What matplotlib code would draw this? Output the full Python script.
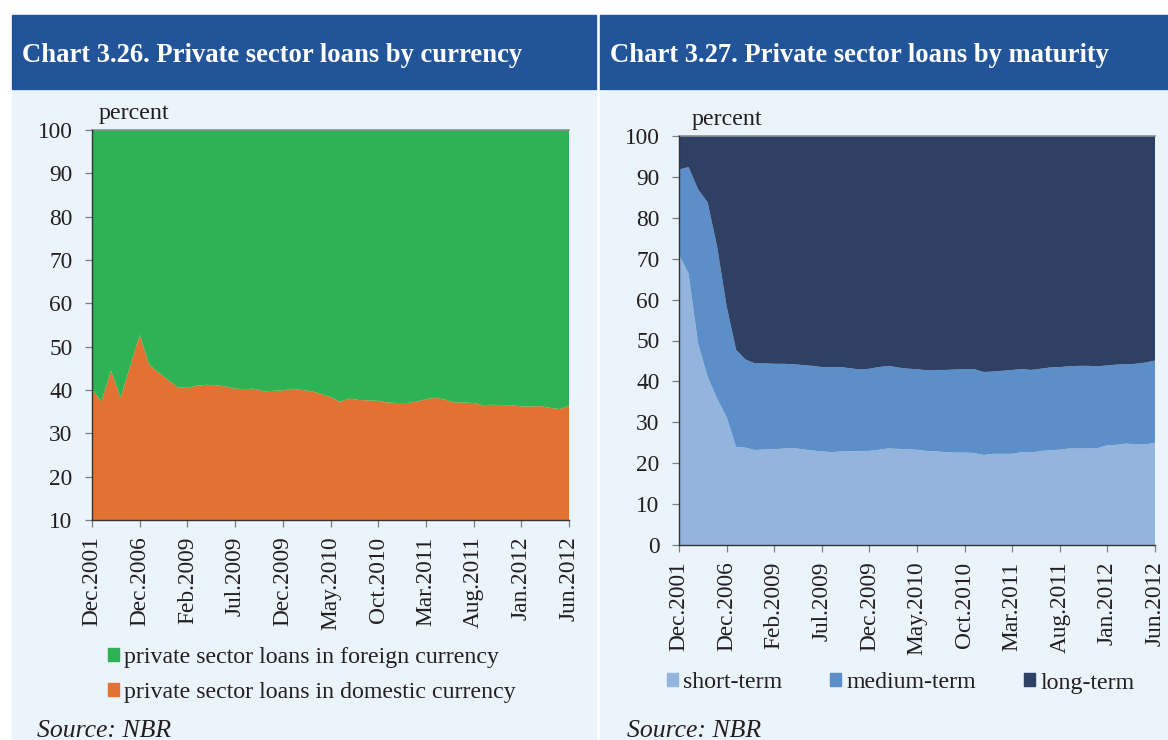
import matplotlib
matplotlib.use("Agg")
import matplotlib.pyplot as plt
from matplotlib.patches import Rectangle, Patch
import numpy as np

# ── Palette ────────────────────────────────────────────────────────────────────
HEADER_BLUE = "#22549a"
PANEL_BG    = "#ebf3fb"
GREEN       = "#2db254"
ORANGE      = "#e37131"
SHORT_C     = "#93b5dd"
MEDIUM_C    = "#5c8ec9"
LONG_C      = "#2e4164"
TEXT_C      = "#231f20"

SERIF = ["Liberation Serif", "DejaVu Serif"]

# ── Data ───────────────────────────────────────────────────────────────────────
TICK_LABELS = ["Dec.2001", "Dec.2006", "Feb.2009", "Jul.2009", "Dec.2009",
               "May.2010", "Oct.2010", "Mar.2011", "Aug.2011", "Jan.2012",
               "Jun.2012"]
TICK_STEP = 5

# Chart 3.26 - shares by currency (percent)
domestic = [40.0, 37.4, 44.5, 38.2, 45.5, 52.7, 45.8, 44.0, 42.3, 40.6,
            40.5, 41.0, 41.2, 41.1, 40.8, 40.3, 40.2, 40.3, 39.7, 39.8,
            39.9, 40.3, 40.0, 39.7, 39.1, 38.4, 37.3, 38.0, 37.7, 37.6,
            37.5, 37.1, 37.0, 37.0, 37.3, 37.9, 38.2, 37.8, 37.1, 37.1,
            37.0, 36.5, 36.6, 36.5, 36.5, 36.2, 36.2, 36.3, 35.9, 35.6,
            36.3]
foreign = [60.0, 62.6, 55.5, 61.8, 54.5, 47.3, 54.2, 56.0, 57.7, 59.4,
           59.5, 59.0, 58.8, 58.9, 59.2, 59.7, 59.8, 59.7, 60.3, 60.2,
           60.1, 59.7, 60.0, 60.3, 60.9, 61.6, 62.7, 62.0, 62.3, 62.4,
           62.5, 62.9, 63.0, 63.0, 62.7, 62.1, 61.8, 62.2, 62.9, 62.9,
           63.0, 63.5, 63.4, 63.5, 63.5, 63.8, 63.8, 63.7, 64.1, 64.4,
           63.7]

# Chart 3.27 - shares by maturity (percent)
short_term = [71.0, 66.4, 49.3, 41.2, 35.8, 31.3, 24.0, 23.8, 23.2, 23.4,
              23.4, 23.6, 23.7, 23.4, 23.1, 22.9, 22.7, 22.9, 22.9, 23.0,
              23.0, 23.3, 23.6, 23.5, 23.4, 23.3, 23.0, 22.9, 22.7, 22.6,
              22.6, 22.5, 22.0, 22.3, 22.3, 22.3, 22.7, 22.6, 23.0, 23.2,
              23.3, 23.6, 23.6, 23.6, 23.7, 24.4, 24.5, 24.8, 24.6, 24.6,
              25.0]
medium_term = [20.8, 26.0, 37.7, 42.6, 37.2, 27.1, 23.7, 21.5, 21.2, 21.0,
               20.9, 20.7, 20.5, 20.6, 20.7, 20.6, 20.8, 20.6, 20.3, 19.9,
               20.1, 20.2, 20.2, 19.9, 19.7, 19.7, 19.7, 19.9, 20.1, 20.3,
               20.4, 20.5, 20.3, 20.1, 20.3, 20.5, 20.3, 20.2, 20.1, 20.2,
               20.2, 20.1, 20.2, 20.2, 20.0, 19.5, 19.6, 19.4, 19.7, 20.0,
               20.1]
long_term = [8.2, 7.6, 13.0, 16.2, 27.0, 41.6, 52.3, 54.7, 55.6, 55.6,
             55.7, 55.7, 55.8, 56.0, 56.2, 56.5, 56.5, 56.5, 56.8, 57.1,
             56.9, 56.5, 56.2, 56.6, 56.9, 57.0, 57.3, 57.2, 57.2, 57.1,
             57.0, 57.0, 57.7, 57.6, 57.4, 57.2, 57.0, 57.2, 56.9, 56.6,
             56.5, 56.3, 56.2, 56.2, 56.3, 56.1, 55.9, 55.8, 55.7, 55.4,
             54.9]

W, H = 1168, 740
fig = plt.figure(figsize=(W / 100, H / 100), dpi=100)
fig.patch.set_facecolor("white")

TICK_FS = 16.8
TEXT_FS = 17.3
LEGEND_FS = 17.2
SOURCE_FS = 18.5


def px(x0, y0, w, h):
    """Pixel box (top-left origin) -> figure fraction rect."""
    return [x0 / W, 1 - (y0 + h) / H, w / W, h / H]


def panel(x0, x1, title):
    # light body and blue header band, kept behind the axes
    fig.patches.append(Rectangle((x0 / W, 0), (x1 - x0) / W, 1 - 91 / H,
                                 transform=fig.transFigure,
                                 color=PANEL_BG, zorder=-2))
    fig.patches.append(Rectangle((x0 / W, 1 - 89 / H), (x1 - x0) / W, 74 / H,
                                 transform=fig.transFigure,
                                 color=HEADER_BLUE, zorder=-2))
    fig.text((x0 + 10) / W, 1 - 56 / H, title, color="white",
             fontsize=19.2, fontweight="bold", family=SERIF,
             ha="left", va="center")


def style_axes(ax, ymin, ymax):
    x = np.arange(len(TICK_LABELS) * TICK_STEP - TICK_STEP + 1)
    ax.set_xlim(x[0], x[-1])
    ax.set_ylim(ymin, ymax)
    ax.set_yticks(np.arange(ymin, ymax + 1, 10))
    ax.set_xticks(x[::TICK_STEP])
    ax.set_xticklabels(TICK_LABELS, rotation=90)
    for lab in ax.get_xticklabels() + ax.get_yticklabels():
        lab.set_family(SERIF)
        lab.set_fontsize(TICK_FS)
        lab.set_color(TEXT_C)
    ax.tick_params(axis="both", direction="out", length=5, width=0.9,
                   color="#7f7f7f")
    ax.tick_params(axis="y", pad=9)
    ax.tick_params(axis="x", pad=7)
    for s in ("top", "right"):
        ax.spines[s].set_visible(False)
    for s in ("left", "bottom"):
        ax.spines[s].set_color("#333333")
        ax.spines[s].set_linewidth(1.0)
        ax.spines[s].set_zorder(5)
    # thin grey rule along the 100% line
    ax.axhline(ymax, color="#8c8c8c", lw=1.2, zorder=4, clip_on=False)
    ax.set_facecolor("none")
    return x


panel(12, 596, "Chart 3.26. Private sector loans by currency")
panel(600, 1168, "Chart 3.27. Private sector loans by maturity")

legend_kw = dict(bbox_transform=fig.transFigure, frameon=False,
                 prop={"family": SERIF, "size": LEGEND_FS},
                 handlelength=0.46, handleheight=0.46, handletextpad=0.22,
                 borderaxespad=0, borderpad=0, labelcolor=TEXT_C)

# ── Chart 3.26 ─────────────────────────────────────────────────────────────────
ax1 = fig.add_axes(px(92, 130, 477, 390))
x = style_axes(ax1, 10, 100)
ax1.stackplot(x, domestic, foreign, colors=[ORANGE, GREEN], linewidth=0)
fig.text(99 / W, 1 - 113 / H, "percent", family=SERIF, fontsize=TEXT_FS,
         color=TEXT_C, ha="left", va="center")
ax1.legend(handles=[Patch(color=GREEN, label="private sector loans in foreign currency"),
                    Patch(color=ORANGE, label="private sector loans in domestic currency")],
           loc="center left", bbox_to_anchor=(108 / W, 1 - 675 / H),
           labelspacing=0.62, **legend_kw)
fig.text(37 / W, 1 - 731 / H, "Source: NBR", family=SERIF, fontsize=SOURCE_FS,
         style="italic", color=TEXT_C, ha="left", va="center")

# ── Chart 3.27 ─────────────────────────────────────────────────────────────────
ax2 = fig.add_axes(px(679, 136, 476, 409))
x = style_axes(ax2, 0, 100)
ax2.stackplot(x, short_term, medium_term, long_term,
              colors=[SHORT_C, MEDIUM_C, LONG_C], linewidth=0)
fig.text(692 / W, 1 - 120 / H, "percent", family=SERIF, fontsize=TEXT_FS,
         color=TEXT_C, ha="left", va="center")
ax2.legend(handles=[Patch(color=SHORT_C, label="short-term"),
                    Patch(color=MEDIUM_C, label="medium-term"),
                    Patch(color=LONG_C, label="long-term")],
           loc="center left", bbox_to_anchor=(667 / W, 1 - 683 / H),
           ncol=3, columnspacing=2.0, **legend_kw)
fig.text(627 / W, 1 - 731 / H, "Source: NBR", family=SERIF, fontsize=SOURCE_FS,
         style="italic", color=TEXT_C, ha="left", va="center")

fig.savefig("out.png", dpi=100)
